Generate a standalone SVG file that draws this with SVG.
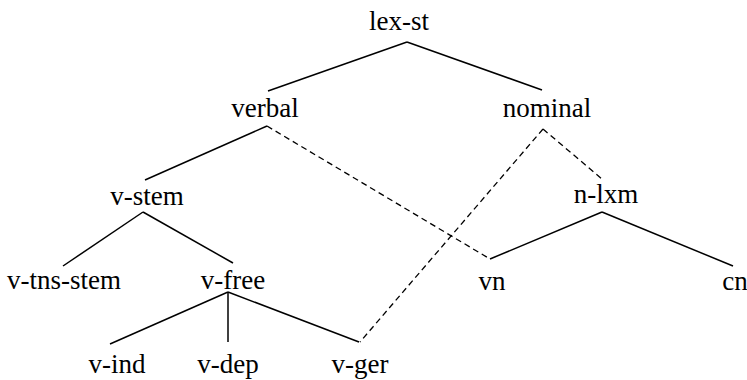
<svg xmlns="http://www.w3.org/2000/svg" width="747" height="380" viewBox="0 0 747 380">
  <style>
    .edge { stroke: #000; stroke-width: 1.5; fill: none; }
    .dash { stroke-dasharray: 6 4; stroke-width: 1.3; }
  </style>
  <rect width="747" height="380" fill="#fff"/>
  <g id="connectors">
    <line class="edge" x1="407" y1="42" x2="268" y2="91"/>
    <line class="edge" x1="407" y1="42" x2="542" y2="90"/>
    <line class="edge" x1="267" y1="126" x2="145" y2="180"/>
    <line class="edge dash" x1="267" y1="126" x2="490" y2="259"/>
    <line class="edge dash" x1="543" y1="129" x2="602" y2="179"/>
    <line class="edge dash" x1="543" y1="129" x2="360" y2="342"/>
    <line class="edge" x1="143" y1="212" x2="63" y2="266"/>
    <line class="edge" x1="143" y1="212" x2="233" y2="263"/>
    <line class="edge" x1="228" y1="292" x2="110" y2="344"/>
    <line class="edge" x1="228" y1="292" x2="228" y2="342"/>
    <line class="edge" x1="228" y1="292" x2="359" y2="342"/>
    <line class="edge" x1="602" y1="212" x2="490" y2="259"/>
    <line class="edge" x1="602" y1="212" x2="733" y2="266"/>
  </g>
  <g font-family="Liberation Serif, Tinos, DejaVu Serif, serif" font-size="27" fill="#000" text-anchor="middle">
    <g id="lex-st"><text x="399" y="30">lex-st</text></g>
    <g id="verbal"><text x="265" y="117">verbal</text></g>
    <g id="nominal"><text x="547" y="117">nominal</text></g>
    <g id="v-stem"><text x="147" y="205">v-stem</text></g>
    <g id="n-lxm"><text x="606" y="203">n-lxm</text></g>
    <g id="v-tns-stem"><text x="64" y="289">v-tns-stem</text></g>
    <g id="v-free"><text x="233" y="289">v-free</text></g>
    <g id="vn"><text x="492" y="290">vn</text></g>
    <g id="cn"><text x="735" y="290">cn</text></g>
    <g id="v-ind"><text x="117" y="373">v-ind</text></g>
    <g id="v-dep"><text x="228" y="373">v-dep</text></g>
    <g id="v-ger"><text x="360" y="373">v-ger</text></g>
  </g>
</svg>
